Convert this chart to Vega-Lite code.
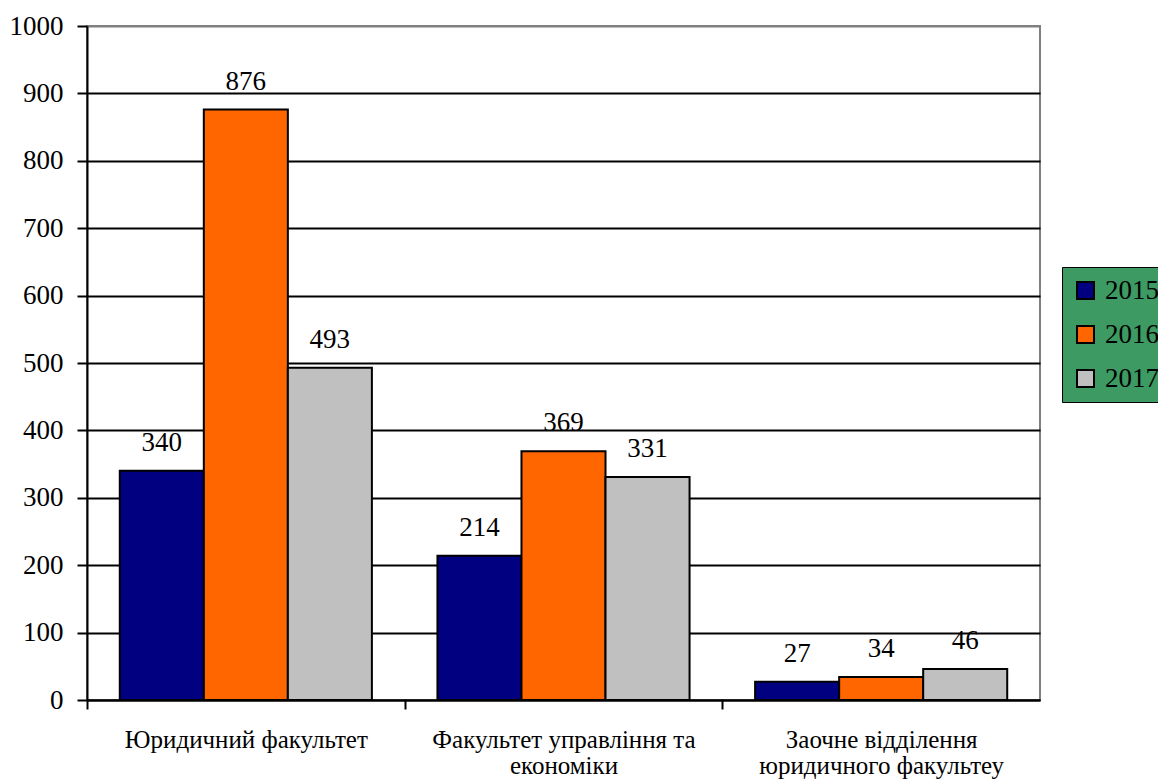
{
  "$schema": "https://vega.github.io/schema/vega-lite/v6.json",
  "autosize": "none",
  "width": 953,
  "height": 674,
  "padding": {"left": 87, "top": 26, "right": 118, "bottom": 82},
  "background": "white",
  "config": {
    "font": "Liberation Serif",
    "view": {"stroke": "#808080", "strokeWidth": 2}
  },
  "data": {
    "values": [
      {"faculty": "Юридичний факультет", "year": "2015", "value": 340},
      {"faculty": "Юридичний факультет", "year": "2016", "value": 876},
      {"faculty": "Юридичний факультет", "year": "2017", "value": 493},
      {"faculty": "Факультет управління та економіки", "year": "2015", "value": 214},
      {"faculty": "Факультет управління та економіки", "year": "2016", "value": 369},
      {"faculty": "Факультет управління та економіки", "year": "2017", "value": 331},
      {"faculty": "Заочне відділення юридичного факультеу", "year": "2015", "value": 27},
      {"faculty": "Заочне відділення юридичного факультеу", "year": "2016", "value": 34},
      {"faculty": "Заочне відділення юридичного факультеу", "year": "2017", "value": 46}
    ]
  },
  "encoding": {
    "x": {
      "field": "faculty",
      "type": "nominal",
      "sort": null,
      "scale": {"paddingInner": 0, "paddingOuter": 0},
      "axis": {
        "title": null,
        "labelAngle": 0,
        "labelFont": "Liberation Serif",
        "labelFontSize": 25,
        "labelColor": "black",
        "labelPadding": 18,
        "labelLineHeight": 26,
        "labelBaseline": "top",
        "labelLimit": 500,
        "tickOffset": -158.83,
        "labelOffset": 158.83,
        "tickSize": 9,
        "tickWidth": 2,
        "tickColor": "black",
        "domainColor": "black",
        "domainWidth": 2,
        "labelExpr": "datum.value == 'Факультет управління та економіки' ? ['Факультет управління та', 'економіки'] : datum.value == 'Заочне відділення юридичного факультеу' ? ['Заочне відділення', 'юридичного факультеу'] : datum.value"
      }
    },
    "xOffset": {
      "field": "year",
      "type": "nominal",
      "scale": {"paddingInner": 0, "paddingOuter": 0.39}
    },
    "y": {
      "field": "value",
      "type": "quantitative",
      "scale": {"domain": [0, 1000], "nice": false},
      "axis": {
        "title": null,
        "format": "d",
        "values": [0, 100, 200, 300, 400, 500, 600, 700, 800, 900, 1000],
        "labelFont": "Liberation Serif",
        "labelFontSize": 27,
        "labelColor": "black",
        "labelPadding": 14,
        "tickSize": 10,
        "tickWidth": 2,
        "tickColor": "black",
        "domainColor": "black",
        "domainWidth": 2,
        "grid": true,
        "gridColor": {"condition": {"test": "datum.value === 1000", "value": "#808080"}, "value": "black"},
        "gridWidth": 2
      }
    }
  },
  "layer": [
    {
      "mark": {"type": "bar", "stroke": "black", "strokeWidth": 2},
      "encoding": {
        "color": {
          "field": "year",
          "type": "nominal",
          "scale": {"domain": ["2015", "2016", "2017"], "range": ["#000080", "#FF6600", "#C0C0C0"]},
          "legend": {
            "title": null,
            "orient": "none",
            "legendX": 975,
            "legendY": 241,
            "direction": "vertical",
            "fillColor": "#3C9A62",
            "strokeColor": "black",
            "padding": 10,
            "symbolType": "square",
            "symbolSize": 289,
            "symbolStrokeColor": "black",
            "symbolStrokeWidth": 2,
            "symbolOpacity": 1,
            "labelFont": "Liberation Serif",
            "labelFontSize": 27,
            "labelColor": "black",
            "labelOffset": 6,
            "rowPadding": 16,
            "labelLimit": 200
          }
        }
      }
    },
    {
      "mark": {"type": "text", "baseline": "alphabetic", "dy": -20, "font": "Liberation Serif", "fontSize": 27, "color": "black"},
      "encoding": {
        "text": {"field": "value", "type": "quantitative"}
      }
    }
  ]
}
